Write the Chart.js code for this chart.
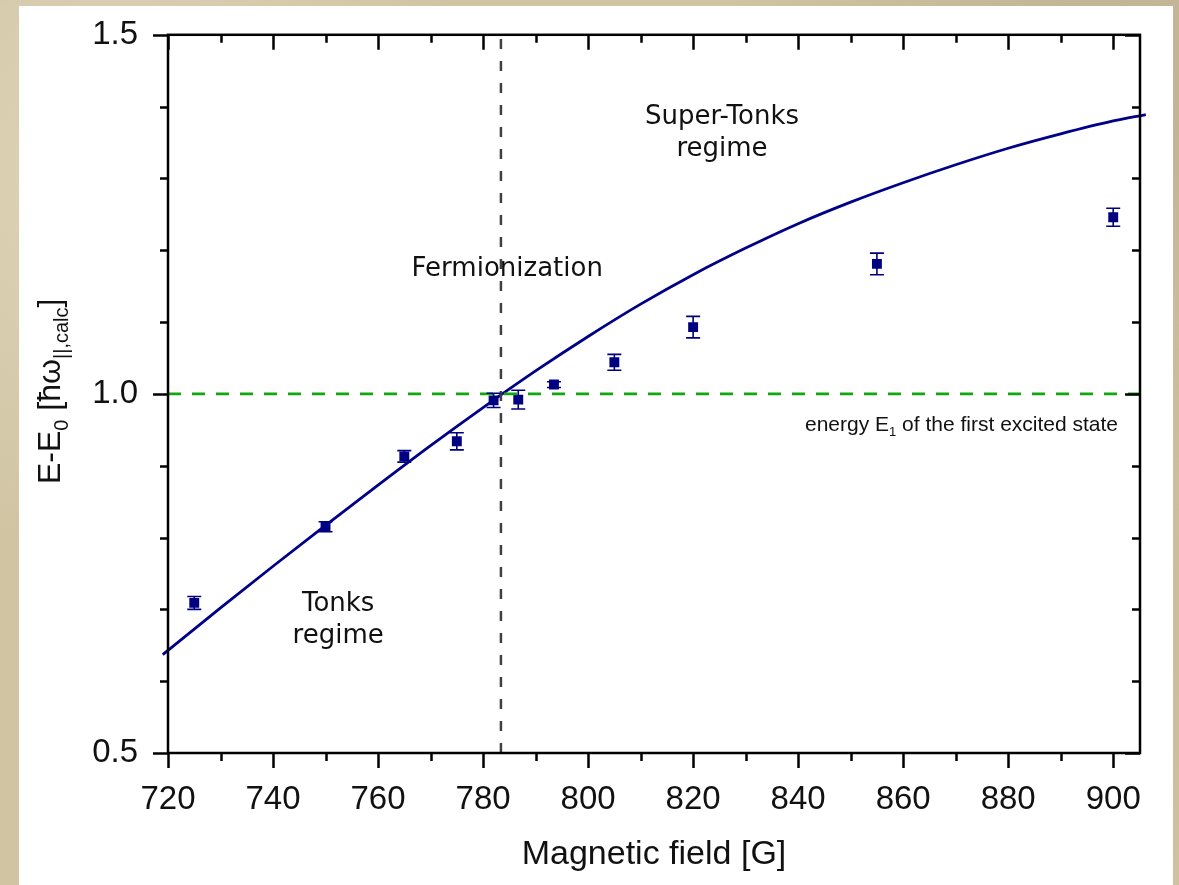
<!DOCTYPE html>
<html>
<head>
<meta charset="utf-8">
<script src="https://cdn.jsdelivr.net/npm/chart.js@4.4.1/dist/chart.umd.min.js"></script>
<style>
	html, body {
		margin: 0;
		padding: 0;
	}
	body {
		width: 1179px;
		height: 885px;
		overflow: hidden;
		position: relative;
		background-color: #d0c4a3;
		background-image:
			radial-gradient(circle at 10% 20%, rgba(255, 250, 230, 0.3), transparent 30%),
			radial-gradient(circle at 80% 70%, rgba(150, 135, 100, 0.25), transparent 35%),
			radial-gradient(circle at 40% 90%, rgba(255, 250, 230, 0.25), transparent 25%),
			radial-gradient(circle at 95% 10%, rgba(140, 125, 95, 0.25), transparent 30%);
	}
	#panel {
		position: absolute;
		left: 19px;
		top: 6px;
		width: 1154px;
		height: 879px;
		background: #fff;
	}
	#wrap {
		position: absolute;
		left: 0;
		top: 0;
		width: 1179px;
		height: 885px;
	}
</style>
</head>
<body>
<div id="panel"></div>
<div id="wrap"><canvas id="miGrafico"></canvas></div>
<script>
// fitted curve
const curveX = [719, 720, 730, 740, 750, 760, 770, 780, 790, 800, 810, 820, 830, 840, 850, 860, 870, 880, 890, 900, 906.2];
const curveY = [0.637, 0.643, 0.702, 0.760, 0.817, 0.873, 0.928, 0.981, 1.032, 1.080, 1.125, 1.166, 1.203, 1.237, 1.267, 1.294, 1.319, 1.342, 1.362, 1.380, 1.389];

// measured points
const fieldX = [725, 750, 765, 775, 782, 786.7, 793.5, 805, 820, 855, 900];
const energyY = [0.709, 0.815, 0.913, 0.934, 0.991, 0.992, 1.013, 1.044, 1.093, 1.181, 1.246];
const energyErr = [0.009, 0.007, 0.008, 0.012, 0.010, 0.013, 0.004, 0.011, 0.015, 0.015, 0.0125];

const fermionizationX = 783.4;
const excitedLevel = 1.0;

const xTicks = [720, 740, 760, 780, 800, 820, 840, 860, 880, 900];
const yTicks = [0.5, 1.0, 1.5];

const xMin = 720, xMax = 905.1;
const yMin = 0.5, yMax = 1.5;

const navy = "#000080";
const arial = "'Liberation Sans', Arial, sans-serif";

function toPoints(xs, ys) {
	return xs.map((x, i) => ({ x: x, y: ys[i] }));
}

const frameAndTicks = {
	id: "frameAndTicks",
	afterDraw(chart) {
		const ctx = chart.ctx;
		const xs = chart.scales.x;
		const ys = chart.scales.y;
		const a = chart.chartArea;
		ctx.save();
		ctx.strokeStyle = "#000";
		ctx.lineWidth = 2.5;
		ctx.beginPath();
		// x ticks, every 10, major every 20
		for (let v = 720; v <= 900; v += 10) {
			const px = Math.round(xs.getPixelForValue(v)) + 0.5;
			const len = (v - 720) % 20 === 0 ? 15 : 8;
			ctx.moveTo(px, a.bottom);
			ctx.lineTo(px, a.bottom + len);
			ctx.moveTo(px, a.top);
			ctx.lineTo(px, a.top + len);
		}
		// y ticks, every 0.1, major every 0.5
		for (let i = 0; i <= 10; i++) {
			const v = 0.5 + i * 0.1;
			const py = Math.round(ys.getPixelForValue(v)) + 0.5;
			const len = i % 5 === 0 ? 15 : 8;
			ctx.moveTo(a.left - len, py);
			ctx.lineTo(a.left, py);
			ctx.moveTo(a.right - len, py);
			ctx.lineTo(a.right, py);
		}
		ctx.stroke();
		ctx.strokeRect(a.left, a.top, a.right - a.left, a.bottom - a.top);

		// y axis title with subscripts
		ctx.translate(60, 484);
		ctx.rotate(-Math.PI / 2);
		ctx.fillStyle = "#111";
		ctx.textBaseline = "alphabetic";
		ctx.textAlign = "left";
		const big = "32px " + arial;
		const small = "20px " + arial;
		let x = 0;
		const parts = [
			["E-E", big, 0],
			["0", small, 8],
			[" [\u0127\u03c9", big, 0],
			["||,calc", small, 8],
			["]", big, 0],
		];
		parts.forEach((p) => {
			ctx.font = p[1];
			ctx.fillText(p[0], x, p[2]);
			x += ctx.measureText(p[0]).width;
		});
		ctx.restore();
	},
};

const errorBars = {
	id: "errorBars",
	afterDatasetsDraw(chart) {
		const ctx = chart.ctx;
		const xs = chart.scales.x;
		const ys = chart.scales.y;
		ctx.save();
		ctx.strokeStyle = navy;
		ctx.lineWidth = 1.6;
		fieldX.forEach((fx, i) => {
			const px = xs.getPixelForValue(fx);
			const top = ys.getPixelForValue(energyY[i] + energyErr[i]);
			const bot = ys.getPixelForValue(energyY[i] - energyErr[i]);
			ctx.beginPath();
			ctx.moveTo(px, top);
			ctx.lineTo(px, bot);
			ctx.moveTo(px - 7, top);
			ctx.lineTo(px + 7, top);
			ctx.moveTo(px - 7, bot);
			ctx.lineTo(px + 7, bot);
			ctx.stroke();
		});
		ctx.restore();
	},
};

const labels = {
	id: "labels",
	afterDraw(chart) {
		const ctx = chart.ctx;
		const xs = chart.scales.x;
		const ys = chart.scales.y;
		ctx.save();
		ctx.fillStyle = "#111";
		ctx.textBaseline = "middle";
		ctx.textAlign = "center";
		ctx.font = "26px 'DejaVu Sans', sans-serif";
		const put = (t, x, y) => ctx.fillText(t, xs.getPixelForValue(x), ys.getPixelForValue(y));
		put("Super-Tonks", 825.5, 1.385);
		put("regime", 825.5, 1.341);
		put("Fermionization", 784.6, 1.174);
		put("Tonks", 752.4, 0.707);
		put("regime", 752.4, 0.663);

		// energy E1 label
		ctx.textAlign = "left";
		ctx.textBaseline = "alphabetic";
		let x = xs.getPixelForValue(841.3);
		const y = ys.getPixelForValue(0.959) + 8;
		const parts = [
			["energy E", "21px " + arial, 0],
			["1", "13px " + arial, 5],
			[" of the first excited state", "21px " + arial, 0],
		];
		parts.forEach((p) => {
			ctx.font = p[1];
			ctx.fillText(p[0], x, y + p[2]);
			x += ctx.measureText(p[0]).width;
		});
		ctx.restore();
	},
};

function initGrafico() {
	const ctx = document.getElementById("miGrafico");

	new Chart(ctx, {
		type: "scatter",
		data: {
			datasets: [
				{
					label: "E1",
					data: [{ x: xMin, y: excitedLevel }, { x: xMax, y: excitedLevel }],
					showLine: true,
					borderColor: "#12a612",
					borderWidth: 2.8,
					borderDash: [13, 11],
					pointRadius: 0,
				},
				{
					label: "fermionization",
					data: [{ x: fermionizationX, y: yMin }, { x: fermionizationX, y: yMax }],
					showLine: true,
					borderColor: "#404040",
					borderWidth: 2.5,
					borderDash: [10, 12],
					pointRadius: 0,
				},
				{
					label: "theory",
					data: toPoints(curveX, curveY),
					showLine: true,
					borderColor: "#000088",
					borderWidth: 2.8,
					cubicInterpolationMode: "monotone",
					pointRadius: 0,
					clip: false,
				},
				{
					label: "data",
					data: toPoints(fieldX, energyY),
					pointStyle: "rect",
					pointRadius: 7,
					backgroundColor: navy,
					borderWidth: 0,
				},
			],
		},
		options: {
			responsive: false,
			animation: false,
			layout: {
				padding: { left: 0, right: 39, top: 32, bottom: 0 },
			},
			plugins: {
				legend: { display: false },
				tooltip: { enabled: false },
			},
			scales: {
				x: {
					type: "linear",
					min: xMin,
					max: xMax,
					afterFit: (s) => {
						s.height = 132;
					},
					afterBuildTicks: (s) => {
						s.ticks = xTicks.map((v) => ({ value: v }));
					},
					grid: {
						drawOnChartArea: false,
						tickLength: 15,
						tickColor: "rgba(0,0,0,0)",
					},
					border: { display: false },
					ticks: {
						padding: 12,
						color: "#111",
						font: { family: arial, size: 33 },
						maxRotation: 0,
					},
					title: {
						display: true,
						text: "Magnetic field [G]",
						color: "#111",
						font: { family: arial, size: 34 },
						padding: { top: 0, bottom: 10 },
					},
				},
				y: {
					type: "linear",
					min: yMin,
					max: yMax,
					afterFit: (s) => {
						s.width = 168;
					},
					afterBuildTicks: (s) => {
						s.ticks = yTicks.map((v) => ({ value: v }));
					},
					grid: {
						drawOnChartArea: false,
						tickLength: 15,
						tickColor: "rgba(0,0,0,0)",
					},
					border: { display: false },
					ticks: {
						padding: 15,
						color: "#111",
						font: { family: arial, size: 33 },
						callback: (v) => v.toFixed(1),
					},
				},
			},
		},
		plugins: [errorBars, frameAndTicks, labels],
	});
}

const c = document.getElementById("miGrafico");
c.width = 1179;
c.height = 885;
initGrafico();
</script>
</body>
</html>
